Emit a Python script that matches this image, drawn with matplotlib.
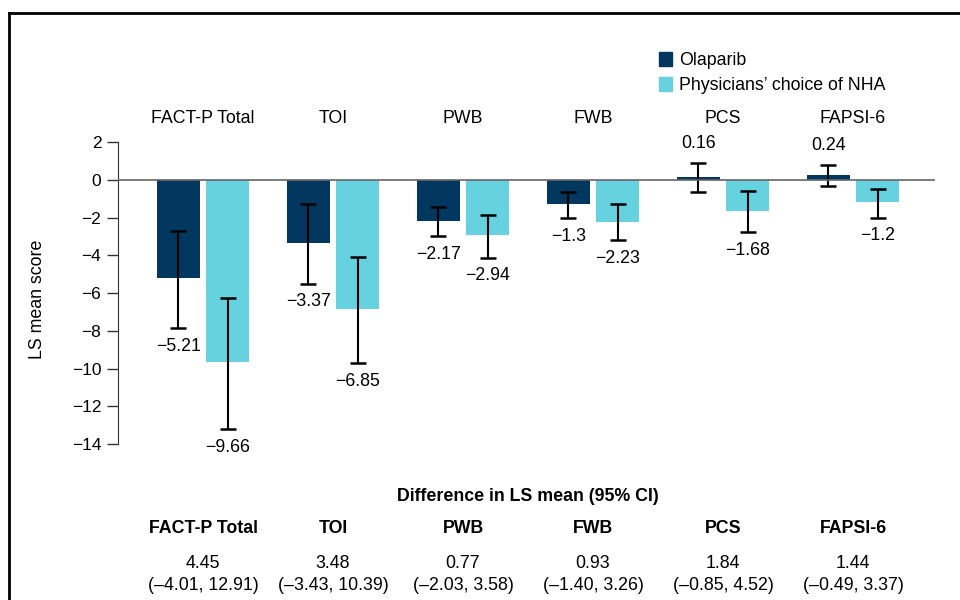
import numpy as np
import matplotlib.pyplot as plt
from matplotlib.lines import Line2D
from matplotlib.patches import Patch

plt.rcParams['font.family'] = ['Liberation Sans', 'DejaVu Sans']

# LS mean change from baseline per domain, with 95% CI limits
domains   = ['FACT-P Total', 'TOI', 'PWB', 'FWB', 'PCS', 'FAPSI-6']
ola_mean  = [-5.21, -3.37, -2.17, -1.3, 0.16, 0.24]
ola_lo    = [-7.85, -5.50, -2.97, -2.03, -0.67, -0.33]
ola_hi    = [-2.70, -1.31, -1.42, -0.67, 0.90, 0.78]
nha_mean  = [-9.66, -6.85, -2.94, -2.23, -1.68, -1.2]
nha_lo    = [-13.20, -9.70, -4.13, -3.21, -2.79, -2.00]
nha_hi    = [-6.26, -4.07, -1.86, -1.29, -0.62, -0.47]
ola_lbl   = ['\u22125.21', '\u22123.37', '\u22122.17', '\u22121.3', '0.16', '0.24']
nha_lbl   = ['\u22129.66', '\u22126.85', '\u22122.94', '\u22122.23', '\u22121.68', '\u22121.2']

# Treatment difference table under the chart
diff_est  = ['4.45', '3.48', '0.77', '0.93', '1.84', '1.44']
diff_ci   = ['(\u20134.01, 12.91)', '(\u20133.43, 10.39)', '(\u20132.03, 3.58)',
             '(\u20131.40, 3.26)', '(\u20130.85, 4.52)', '(\u20130.49, 3.37)']

c_ola = '#02375f'
c_nha = '#67d2df'
fs = 12.8

fig = plt.figure(figsize=(9.6, 6), dpi=100)
ax = fig.add_axes([0.1229, 0.26, 0.851, 0.5033])

x = np.arange(len(domains))
w = 0.33
off = 0.19

def draw_group(xs, mean, lo, hi, color, labels):
    mean = np.array(mean); lo = np.array(lo); hi = np.array(hi)
    ax.bar(xs, mean, width=w, color=color, zorder=2)
    ax.errorbar(xs, mean, yerr=[mean - lo, hi - mean], fmt='none',
                ecolor='black', elinewidth=1.5, capsize=5.5, capthick=1.8, zorder=3)
    for xi, m, l, h, t in zip(xs, mean, lo, hi, labels):
        if m >= 0:
            ax.annotate(t, (xi, h), xytext=(0, 8), textcoords='offset points',
                        ha='center', va='bottom', fontsize=fs)
        else:
            ax.annotate(t, (xi, l), xytext=(0, -7), textcoords='offset points',
                        ha='center', va='top', fontsize=fs)

draw_group(x - off, ola_mean, ola_lo, ola_hi, c_ola, ola_lbl)
draw_group(x + off, nha_mean, nha_lo, nha_hi, c_nha, nha_lbl)

ax.axhline(0, color='#666666', lw=1.2, zorder=4)

ax.set_xlim(-0.654, 5.63)
ax.set_ylim(-14, 2)
ax.set_yticks(np.arange(-14, 3, 2))
ax.set_yticklabels([str(v).replace('-', '\u2212') for v in range(-14, 3, 2)])
ax.set_xticks([])
for s in ['top', 'right', 'bottom']:
    ax.spines[s].set_visible(False)
ax.spines['left'].set_color('#333333')
ax.tick_params(axis='y', direction='out', length=8, width=1, color='#333333',
               labelsize=12.5, pad=4)
ax.set_ylabel('LS mean score', fontsize=fs)
ax.yaxis.set_label_coords(-0.088, 0.48)

tr = ax.get_xaxis_transform()
for xi, d, e, ci in zip(x, domains, diff_est, diff_ci):
    ax.text(xi, 1.079, d, transform=tr, ha='center', va='center', fontsize=fs, clip_on=False)
    ax.text(xi, -0.281, d, transform=tr, ha='center', va='center', fontsize=fs,
            fontweight='bold', clip_on=False)
    ax.text(xi, -0.397, e, transform=tr, ha='center', va='center', fontsize=fs, clip_on=False)
    ax.text(xi, -0.467, ci, transform=tr, ha='center', va='center', fontsize=fs, clip_on=False)

ax.text(x.mean(), -0.175, 'Difference in LS mean (95% CI)', transform=tr, ha='center',
        va='center', fontsize=fs, fontweight='bold', clip_on=False)

handles = [Patch(color=c_ola, label='Olaparib'),
           Patch(color=c_nha, label='Physicians\u2019 choice of NHA')]
fig.legend(handles=handles, loc='upper left', bbox_to_anchor=(0.686, 0.913),
           frameon=False, fontsize=fs, handlelength=0.75, handleheight=0.75,
           handletextpad=0.4, labelspacing=0.45, borderpad=0, borderaxespad=0)

# outer frame around the figure panel
fig.add_artist(Line2D([9 / 960, 1.0], [1 - 13 / 600, 1 - 13 / 600], color='black', lw=2,
                      transform=fig.transFigure))
fig.add_artist(Line2D([9 / 960, 9 / 960], [0.0, 1 - 13 / 600], color='black', lw=2,
                      transform=fig.transFigure))

fig.savefig('out.png', dpi=100)
